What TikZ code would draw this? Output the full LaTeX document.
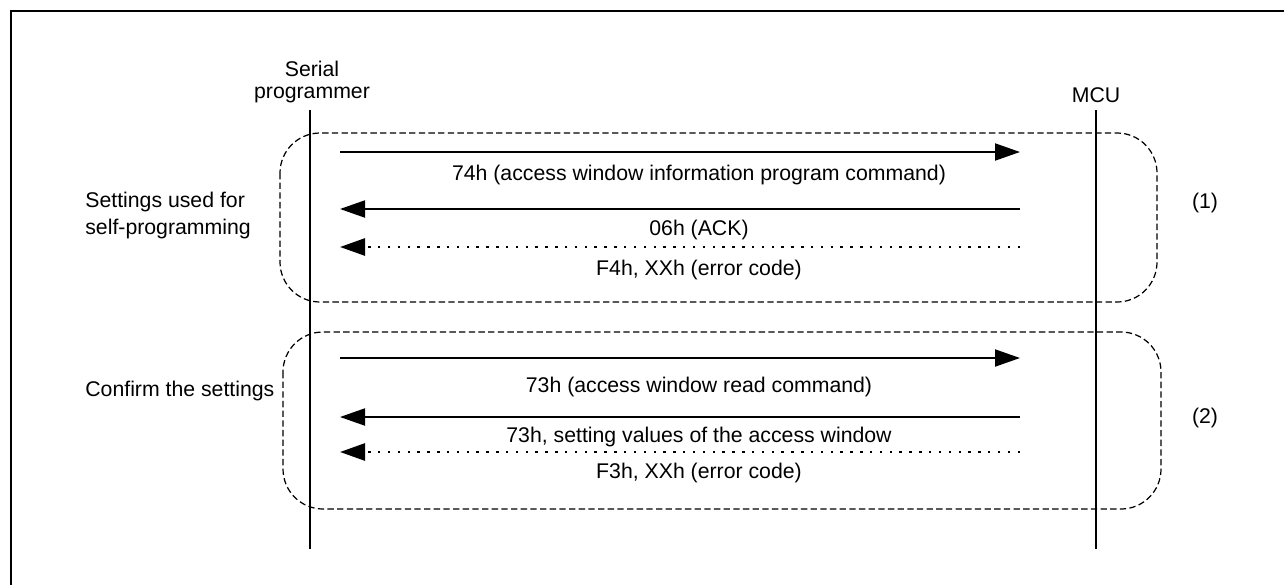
\documentclass[tikz,border=0pt]{standalone}
\usepackage{fontspec}
\setmainfont{Liberation Sans}
\usetikzlibrary{arrows.meta}
\tikzset{
  lifeline/.style={line width=1.1pt},
  msg/.style={line width=1.1pt, -{Triangle[length=0.5cm,width=0.34cm]}},
  reply/.style={msg, line width=1.5pt, dash pattern=on 1.4pt off 4.2pt},
  group/.style={line width=0.7pt, dash pattern=on 3.6pt off 1.9pt, rounded corners=0.8cm},
  lbl/.style={font=\fontsize{12.1}{12.5}\selectfont, anchor=base, inner sep=0pt},
}
\begin{document}
\begin{tikzpicture}[x=0.02cm, y=-0.02cm]
  \useasboundingbox (0,0) rectangle (1284,585);
  % frame
  \draw[line width=1.7pt] (11,585) -- (11,11) -- (1284,11);
  % lifelines
  \coordinate (spTop) at (310,110);
  \coordinate (spBot) at (310,549);
  \coordinate (mcTop) at (1096,110);
  \coordinate (mcBot) at (1096,549);
  \draw[lifeline] (spTop) -- (spBot);
  \draw[lifeline] (mcTop) -- (mcBot);
  \node[lbl, align=center] (sp) at (312,98) {Serial\\programmer};
  \node[lbl] (mcu) at (1096,102) {MCU};
  % groups
  \draw[group] (280,133) rectangle (1157,302);
  \draw[group] (283,332) rectangle (1161,509);
  \node[lbl, anchor=base west, align=left, font=\fontsize{12.1}{15.3}\selectfont]
    (set) at (85,234) {Settings used for\\self-programming};
  \node[lbl, anchor=base west] (conf) at (85,396) {Confirm the settings};
  \node[lbl] (g1) at (1205,208) {(1)};
  \node[lbl] (g2) at (1205,423) {(2)};
  % message rows
  \foreach \i/\y in {1/152,2/209,3/247,4/358,5/417,6/452}{
    \coordinate (sp\i) at (340,\y);
    \coordinate (mc\i) at (1020,\y);
  }
  \draw[msg] (sp1) -- (mc1);
  \draw[msg] (mc2) -- (sp2);
  \draw[reply] (mc3) -- (sp3);
  \draw[msg] (sp4) -- (mc4);
  \draw[msg] (mc5) -- (sp5);
  \draw[reply] (mc6) -- (sp6);
  \node[lbl] (t1) at (699,180) {74h (access window information program command)};
  \node[lbl] (t2) at (699,235) {06h (ACK)};
  \node[lbl] (t3) at (699,275) {F4h, XXh (error code)};
  \node[lbl] (t4) at (699,392) {73h (access window read command)};
  \node[lbl] (t5) at (699,442) {73h, setting values of the access window};
  \node[lbl] (t6) at (699,478) {F3h, XXh (error code)};
\end{tikzpicture}
\end{document}
